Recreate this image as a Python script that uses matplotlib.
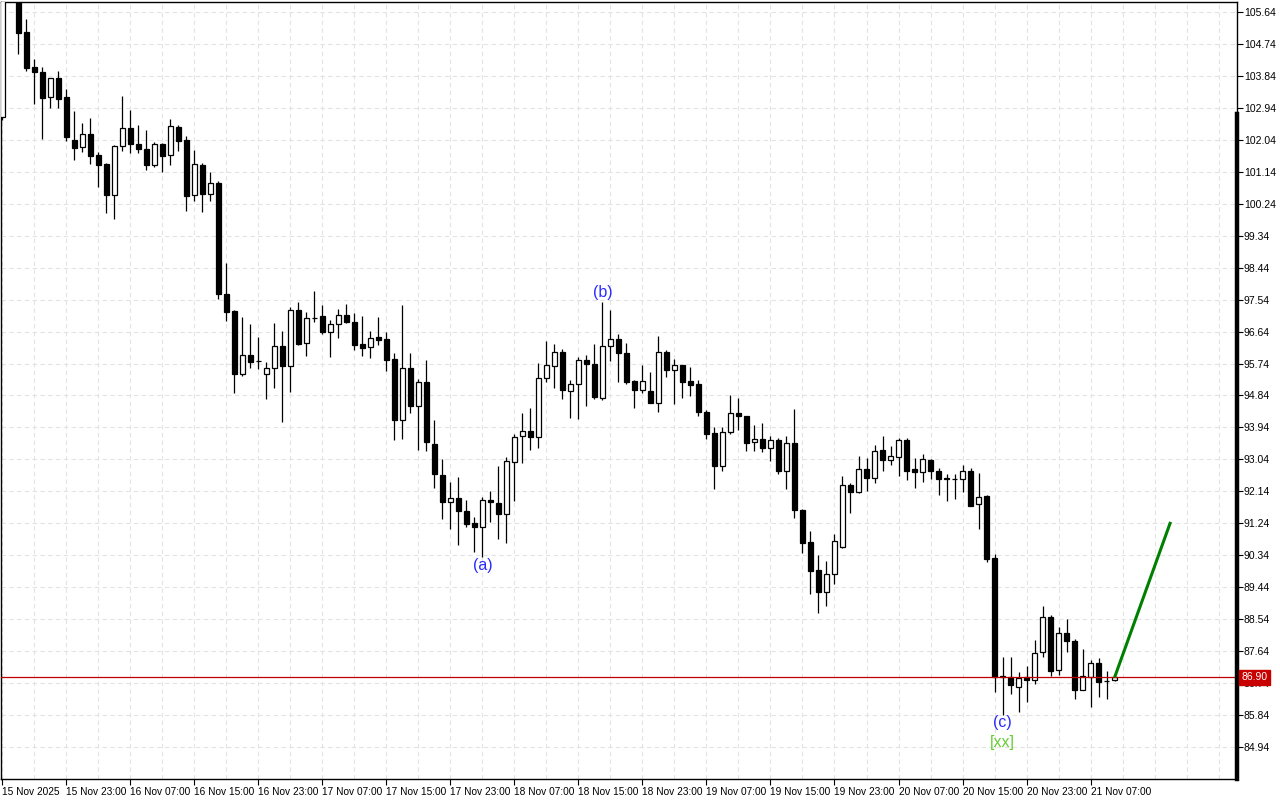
import matplotlib
matplotlib.use("Agg")
import matplotlib.pyplot as plt
from matplotlib.patches import Rectangle

plt.rcParams["font.family"] = ["Liberation Sans", "DejaVu Sans"]

# ---------------- data ----------------
opens = [102.68, 106.40, 106.30, 105.08, 104.09, 103.95, 103.25, 103.78, 103.25, 102.04,
         101.84, 102.21, 101.61, 101.36, 100.49, 101.87, 102.37, 101.92, 101.78, 101.33,
         101.92, 101.61, 102.40, 102.04, 100.49, 101.33, 100.52, 100.83, 97.70, 97.22,
         95.45, 95.98, 95.82, 95.45, 95.61, 96.23, 95.67, 97.25, 96.32, 97.03,
         97.08, 96.63, 96.85, 97.11, 96.91, 96.29, 96.21, 96.49, 96.43, 95.87,
         94.15, 95.61, 94.55, 95.22, 93.47, 92.60, 91.84, 91.95, 91.59, 91.25,
         91.14, 91.90, 91.81, 91.50, 92.97, 93.70, 93.84, 93.67, 95.33, 95.67,
         96.06, 94.97, 95.16, 95.84, 95.73, 94.77, 96.23, 96.43, 96.04, 95.25,
         95.00, 94.97, 94.63, 96.06, 95.56, 95.70, 95.25, 95.16, 94.38, 93.78,
         92.85, 93.81, 94.35, 94.27, 93.53, 93.61, 93.36, 93.59, 92.71, 93.50,
         91.61, 90.71, 89.92, 89.31, 89.81, 90.57, 92.32, 92.12, 92.77, 92.51,
         93.30, 93.02, 93.11, 93.59, 92.77, 92.68, 93.02, 92.71, 92.51, 92.49,
         92.49, 92.71, 91.78, 92.01, 90.26, 86.91, 86.91, 86.63, 86.91, 86.83,
         87.61, 88.60, 87.11, 88.15, 87.92, 86.54, 86.91, 87.30, 86.80, 86.83]
highs = [106.60, 106.90, 106.50, 105.45, 104.32, 104.09, 103.78, 103.98, 103.47, 102.85,
         102.52, 102.66, 101.70, 101.38, 101.88, 103.28, 102.88, 102.46, 102.32, 101.98,
         101.95, 102.63, 102.46, 102.15, 101.76, 101.39, 101.14, 100.88, 98.57, 97.25,
         97.05, 96.85, 96.49, 95.78, 96.88, 96.66, 97.33, 97.47, 97.19, 97.78,
         97.39, 96.97, 97.28, 97.42, 97.16, 97.08, 96.66, 97.05, 96.63, 96.04,
         97.39, 96.04, 95.30, 95.84, 94.15, 93.05, 92.40, 92.54, 91.90, 91.42,
         91.98, 92.15, 92.85, 93.11, 93.76, 94.35, 94.49, 95.76, 96.37, 96.29,
         96.15, 95.28, 95.92, 95.98, 96.29, 97.47, 97.25, 96.57, 96.32, 95.28,
         95.70, 95.50, 96.51, 96.12, 95.87, 95.70, 95.64, 95.28, 94.43, 93.95,
         93.95, 94.85, 94.77, 94.27, 94.01, 94.06, 93.70, 93.64, 93.70, 94.46,
         91.64, 91.02, 90.34, 90.18, 90.94, 92.57, 92.37, 93.13, 93.08, 93.45,
         93.70, 93.42, 93.64, 93.64, 93.08, 93.19, 93.05, 92.80, 92.63, 92.63,
         92.88, 92.80, 92.66, 92.04, 90.37, 87.47, 87.47, 87.05, 87.22, 87.95,
         88.91, 88.66, 88.32, 88.55, 87.98, 87.70, 87.39, 87.45, 87.08, 86.93]
lows = [102.60, 106.00, 104.46, 103.98, 103.05, 102.07, 102.94, 102.94, 102.01, 101.47,
        101.70, 101.36, 100.71, 99.98, 99.81, 101.73, 101.67, 101.67, 101.19, 101.28,
        101.14, 101.33, 101.73, 100.04, 100.32, 100.01, 100.32, 97.56, 96.94, 94.91,
        95.39, 95.61, 95.59, 94.74, 95.05, 94.09, 94.94, 96.26, 95.95, 96.91,
        96.57, 95.92, 96.46, 96.88, 96.12, 95.95, 95.89, 96.26, 95.53, 93.59,
        93.62, 94.35, 93.31, 93.28, 92.23, 91.36, 91.08, 90.63, 91.14, 90.43,
        90.29, 91.28, 90.80, 90.68, 91.87, 92.94, 93.31, 93.36, 95.22, 95.05,
        94.74, 94.21, 94.18, 94.55, 94.74, 94.71, 95.81, 95.22, 95.16, 94.49,
        94.91, 94.63, 94.38, 95.36, 94.60, 94.77, 94.83, 94.27, 93.62, 92.20,
        92.71, 93.76, 93.87, 93.28, 93.28, 93.25, 93.00, 92.63, 92.20, 91.39,
        90.40, 89.25, 88.71, 88.91, 89.53, 90.55, 91.53, 92.10, 92.15, 92.37,
        92.71, 92.88, 92.57, 92.46, 92.23, 92.40, 92.49, 92.04, 91.87, 91.92,
        92.12, 91.73, 91.08, 90.15, 86.49, 85.84, 86.43, 85.92, 86.21, 86.71,
        87.47, 86.94, 86.97, 87.61, 86.29, 86.54, 86.06, 86.35, 86.29, 86.80]
closes = [106.40, 106.30, 105.05, 104.06, 103.95, 103.22, 103.78, 103.19, 102.12, 101.81,
          102.21, 101.59, 101.33, 100.49, 101.87, 102.37, 101.92, 101.78, 101.33, 101.92,
          101.59, 102.43, 102.01, 100.46, 101.36, 100.52, 100.83, 97.70, 97.19, 95.45,
          95.98, 95.78, 95.80, 95.61, 96.23, 95.67, 97.25, 96.29, 97.02, 97.01,
          96.63, 96.85, 97.11, 96.91, 96.26, 96.18, 96.46, 96.40, 95.84, 94.15,
          95.61, 94.55, 95.22, 93.53, 92.63, 91.84, 91.95, 91.59, 91.22, 91.14,
          91.90, 91.84, 91.50, 92.99, 93.67, 93.84, 93.67, 95.33, 95.70, 96.06,
          95.00, 95.16, 95.84, 95.73, 94.80, 96.23, 96.43, 96.04, 95.22, 95.00,
          95.25, 94.63, 96.06, 95.56, 95.70, 95.22, 95.14, 94.38, 93.76, 92.85,
          93.81, 94.35, 94.27, 93.50, 93.61, 93.36, 93.59, 92.71, 93.50, 91.61,
          90.68, 89.89, 89.31, 89.81, 90.74, 92.32, 92.12, 92.77, 92.51, 93.28,
          93.02, 93.13, 93.59, 92.71, 92.68, 93.05, 92.71, 92.49, 92.49, 92.50,
          92.71, 91.73, 91.98, 90.23, 86.91, 86.93, 86.68, 86.88, 86.83, 87.59,
          88.60, 87.08, 88.15, 87.92, 86.54, 86.94, 87.30, 86.77, 86.80, 86.90]

x_labels = ["15 Nov 2025", "15 Nov 23:00", "16 Nov 07:00", "16 Nov 15:00", "16 Nov 23:00",
            "17 Nov 07:00", "17 Nov 15:00", "17 Nov 23:00", "18 Nov 07:00", "18 Nov 15:00",
            "18 Nov 23:00", "19 Nov 07:00", "19 Nov 15:00", "19 Nov 23:00", "20 Nov 07:00",
            "20 Nov 15:00", "20 Nov 23:00", "21 Nov 07:00"]
label_step = 8          # bars between time labels
grid_step = 4           # bars between vertical grid lines

y_ticks = [105.64, 104.74, 103.84, 102.94, 102.04, 101.14, 100.24, 99.34, 98.44, 97.54,
           96.64, 95.74, 94.84, 93.94, 93.04, 92.14, 91.24, 90.34, 89.44, 88.54,
           87.64, 86.74, 85.84, 84.94]

current_price = 86.90

proj_bars = [139, 146]
proj_prices = [86.90, 91.28]

wave_texts = ["(a)", "(b)", "(c)", "[xx]"]
wave_bars = [60, 75, 125, 125]
wave_prices = [90.06, 97.73, 85.64, 85.08]
wave_colors = ["#2a2aff", "#2a2aff", "#2a2aff", "#66cc33"]

# ---------------- figure ----------------
W, H = 1280, 800
fig = plt.figure(figsize=(W / 100, H / 100), dpi=100)
ax = fig.add_axes([1 / W, 21 / H, 1236 / W, 777 / H])
ax.set_facecolor("white")

x_min, x_max = -0.16, 154.3
y_min, y_max = 84.04, 105.92
ax.set_xlim(x_min, x_max)
ax.set_ylim(y_min, y_max)

# grid
for yv in y_ticks:
    ax.axhline(yv, color="#e3e3e3", lw=0.8, ls=(0, (4, 3)), zorder=0)
for k in range(0, int(x_max) + 1, grid_step):
    ax.axvline(k, color="#e3e3e3", lw=0.8, ls=(0, (4, 3)), zorder=0)

# candles
bw = 0.6
lw = 0.9
for i, (o, h, l, c) in enumerate(zip(opens, highs, lows, closes)):
    ax.vlines(i, l, h, color="black", lw=lw, zorder=2)
    bottom = min(o, c)
    height = abs(c - o)
    fc = "white" if c >= o else "black"
    ax.add_patch(Rectangle((i - bw / 2, bottom), bw, height, facecolor=fc,
                           edgecolor="black", lw=lw, zorder=3))

# current price line
ax.axhline(current_price, color="#c00000", lw=0.9, zorder=4)

# projection line
ax.plot(proj_bars, proj_prices, color="#008000", lw=2.2, zorder=5,
        solid_capstyle="butt")

# wave labels
for t, b, p, col in zip(wave_texts, wave_bars, wave_prices, wave_colors):
    ax.text(b, p, t, color=col, fontsize=11.5, ha="center", va="center", zorder=6)

# axes styling
for s in ax.spines.values():
    s.set_color("black")
    s.set_linewidth(1)
ax.axvline(x_max, ymin=0, ymax=(102.77 - y_min) / (y_max - y_min),
           color="black", lw=3.2, clip_on=False, zorder=7)

ax.yaxis.tick_right()
ax.set_yticks(y_ticks)
ax.set_yticklabels([f"{v:.2f}" for v in y_ticks])
ax.tick_params(axis="y", direction="out", length=4, width=0.8, pad=1,
               labelsize=7.5, colors="black")

ax.set_xticks([i * label_step for i in range(len(x_labels))])
ax.set_xticklabels(x_labels)
ax.tick_params(axis="x", direction="out", length=4, width=0.8, pad=1.5,
               labelsize=7.3, colors="black")
for lab in ax.get_xticklabels():
    lab.set_ha("left")

# price tag
ax.text(1.0035, current_price, f"{current_price:.2f}", transform=ax.get_yaxis_transform(),
        color="white", fontsize=7.5, ha="left", va="center", zorder=10, clip_on=False,
        bbox=dict(boxstyle="square,pad=0.2", facecolor="#c80000", edgecolor="#c80000"))

fig.savefig("out.png", dpi=100, facecolor="white")
